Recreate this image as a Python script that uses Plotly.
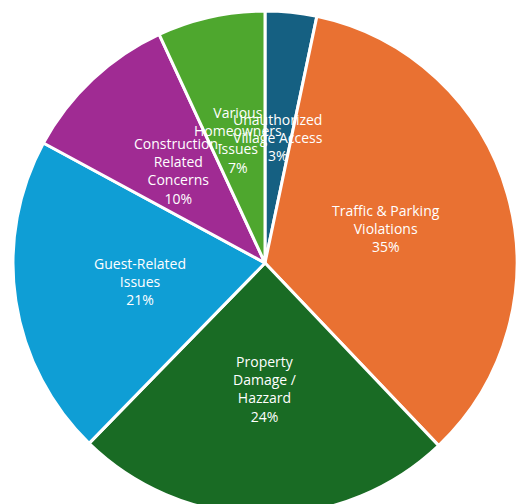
import math
import plotly.graph_objects as go

labels = ["Unauthorized<br>Village Access", "Traffic & Parking<br>Violations",
          "Property<br>Damage /<br>Hazzard", "Guest-Related<br>Issues",
          "Construction-<br>Related<br>Concerns", "Various<br>Homeowners<br>Issues"]
values = [3.3, 34.6, 24.4, 20.6, 10.2, 6.9]
colors = ["#156082", "#E97132", "#196B24", "#0F9ED5", "#A02B93", "#4EA72E"]

W, H = 519, 520
CX, CY, R = 265, 263, 252  # pie centre and radius in pixels
fig = go.Figure(go.Pie(
    labels=labels, values=values, sort=False, direction="clockwise", rotation=0,
    marker=dict(colors=colors, line=dict(color="white", width=3)),
    textinfo="none",
    domain=dict(x=[(CX - R) / W, (CX + R) / W], y=[1 - (CY + R) / H, 1 - (CY - R) / H]),
    showlegend=False, hoverinfo="label+percent",
))

# data labels placed at half radius along each slice's mid-angle (Excel style)
total = sum(values)
cum = 0.0
for lab, v in zip(labels, values):
    mid = (cum + v / 2) / total * 2 * math.pi
    cum += v
    px = CX + 0.5 * R * math.sin(mid)
    py = CY - 0.5 * R * math.cos(mid)
    fig.add_annotation(x=px / W, y=1 - py / H, xref="paper", yref="paper",
                       text=f"{lab}<br>{round(v / total * 100)}%", showarrow=False,
                       xanchor="center", yanchor="middle",
                       font=dict(family="Open Sans", size=14, color="white"))

fig.update_layout(width=W, height=H, margin=dict(l=0, r=0, t=0, b=0),
                  paper_bgcolor="white")
fig.write_html("out.html", post_script="document.body.style.overflow='hidden';document.body.style.margin='0';")
